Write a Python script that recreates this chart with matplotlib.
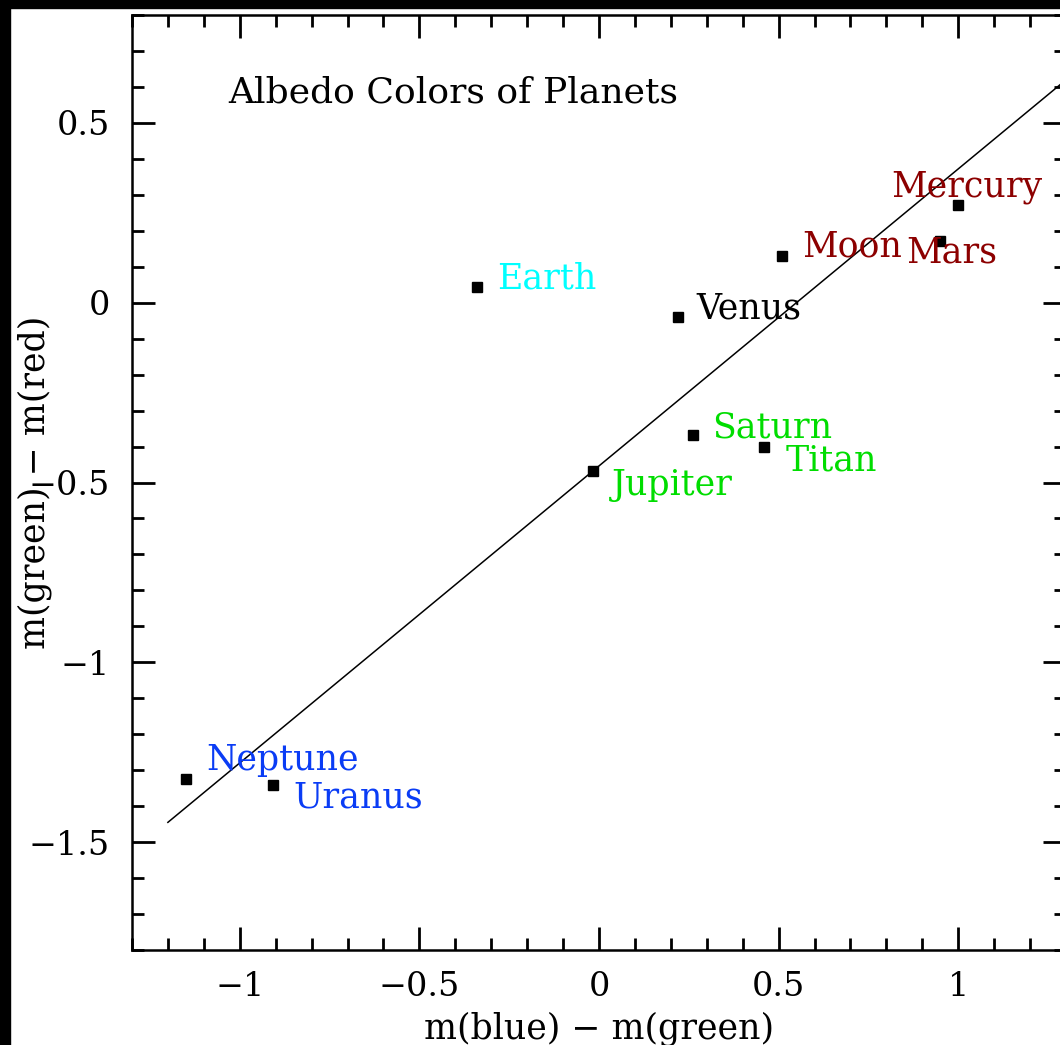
import matplotlib
matplotlib.use("Agg")
import matplotlib.pyplot as plt
from matplotlib.patches import Rectangle
from matplotlib.ticker import MultipleLocator

# colour indices
planets = ["Neptune", "Uranus", "Earth", "Venus", "Jupiter",
           "Saturn", "Titan", "Moon", "Mars", "Mercury"]
b_minus_g = [-1.150, -0.908, -0.340, 0.221, -0.018,
             0.262, 0.459, 0.509, 0.950, 1.000]
g_minus_r = [-1.325, -1.341, 0.043, -0.040, -0.469,
             -0.369, -0.400, 0.130, 0.171, 0.272]

# straight reference line
fit_x = [-1.2, 1.3]
fit_y = [-1.445, 0.62]

label_colors = {
    "Neptune": "#0a3cf5", "Uranus": "#0a3cf5",
    "Earth": "#00ffff", "Venus": "black",
    "Jupiter": "#00dd00", "Saturn": "#00dd00", "Titan": "#00dd00",
    "Moon": "#8c0000", "Mars": "#8c0000", "Mercury": "#8c0000",
}
# label offset from the point, in pixels (left edge, baseline)
label_offsets = {
    "Neptune": (20, 9), "Uranus": (21, -23), "Earth": (20, -1),
    "Venus": (18, -1), "Jupiter": (19, -24), "Saturn": (19, -2),
    "Titan": (22, -24), "Moon": (20, -1), "Mars": (-34, -21),
    "Mercury": (-67, 8),
}

plt.rcParams['font.family'] = ['DejaVu Serif']

fig = plt.figure(figsize=(10.6, 10.45), dpi=100)
ax = fig.add_axes([0.1245, 0.0909, 0.8812, 0.8947])

ax.plot(fit_x, fit_y, color='black', lw=1.1, clip_on=True)
ax.plot(b_minus_g, g_minus_r, 's', color='black', ms=6.5, ls='none')

for name, x, y in zip(planets, b_minus_g, g_minus_r):
    ax.annotate(name, (x, y), xytext=label_offsets[name],
                textcoords='offset pixels', ha='left', va='baseline',
                fontsize=25, color=label_colors[name])

ax.text(-1.033, 0.556, "Albedo Colors of Planets", fontsize=26,
        ha='left', va='baseline')

ax.set_xlim(-1.3, 1.3)
ax.set_ylim(-1.8, 0.8)
ax.xaxis.set_major_locator(MultipleLocator(0.5))
ax.xaxis.set_minor_locator(MultipleLocator(0.1))
ax.yaxis.set_major_locator(MultipleLocator(0.5))
ax.yaxis.set_minor_locator(MultipleLocator(0.1))
ax.xaxis.set_major_formatter(plt.FuncFormatter(lambda v, p: f"{v:g}".replace('-', '\u2212')))
ax.yaxis.set_major_formatter(plt.FuncFormatter(lambda v, p: f"{v:g}".replace('-', '\u2212')))

ax.tick_params(which='both', direction='in', top=True, right=True,
               width=2, labelsize=24)
ax.tick_params(which='major', length=16.5)
ax.tick_params(which='minor', length=8.5)
ax.tick_params(axis='x', pad=15)
ax.tick_params(axis='y', pad=16)
for s in ax.spines.values():
    s.set_linewidth(1.8)

ax.set_xlabel("m(blue) \u2212 m(green)", fontsize=25, labelpad=6)
ax.set_ylabel("m(green) \u2212 m(red)", fontsize=25)
ax.yaxis.set_label_coords(-0.086, 0.5)

# black frame strips on the left and top edges
fig.add_artist(Rectangle((0, 0), 10 / 1060, 1, transform=fig.transFigure,
                         color='black', zorder=10))
fig.add_artist(Rectangle((0, 1 - 8 / 1045), 1, 8 / 1045,
                         transform=fig.transFigure, color='black', zorder=10))

fig.savefig("out.png", dpi=100, facecolor='white')
